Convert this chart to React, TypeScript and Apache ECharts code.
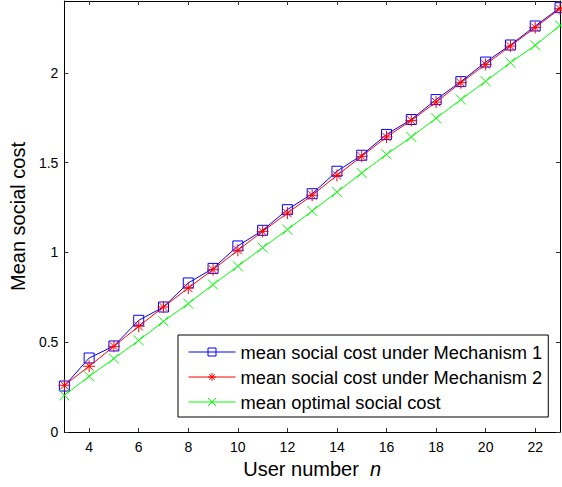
import React, { useEffect, useRef } from "react";
import * as echarts from "echarts";

const userNumbers = [3, 4, 5, 6, 7, 8, 9, 10, 11, 12, 13, 14, 15, 16, 17, 18, 19, 20, 21, 22, 23];
const mechanism1 = [0.256, 0.412, 0.479, 0.622, 0.696, 0.83, 0.911, 1.036, 1.123, 1.238, 1.327, 1.452, 1.541, 1.657, 1.74, 1.851, 1.951, 2.06, 2.155, 2.261, 2.363];
const mechanism2 = [0.26, 0.366, 0.477, 0.589, 0.696, 0.802, 0.904, 1.012, 1.117, 1.219, 1.318, 1.429, 1.535, 1.643, 1.735, 1.837, 1.945, 2.047, 2.149, 2.252, 2.357];
const optimal = [0.204, 0.31, 0.409, 0.51, 0.616, 0.715, 0.821, 0.923, 1.027, 1.127, 1.231, 1.336, 1.442, 1.546, 1.643, 1.747, 1.851, 1.953, 2.057, 2.153, 2.264];
const xTicks = [4, 6, 8, 10, 12, 14, 16, 18, 20, 22];
const seriesNames = [
  "mean social cost under Mechanism 1",
  "mean social cost under Mechanism 2",
  "mean optimal social cost",
];

const FONT = "Liberation Sans, Arial, Helvetica, sans-serif";

const pairs = (ys: number[]) => userNumbers.map((n, i) => [n, ys[i]]);

const SQUARE = "path://M0,0H10V10H0Z";
const STAR = "path://M6,0V12M0,6H12M1.8,1.8L10.2,10.2M10.2,1.8L1.8,10.2";
const CROSS = "path://M0,0L10,10M10,0L0,10";

export default function App() {
  const ref = useRef<HTMLDivElement>(null);
  useEffect(() => {
    if (!ref.current) return;
    const chart = echarts.init(ref.current, undefined, { renderer: "svg" });
    const tickStyle = { show: true, inside: true, length: 4, lineStyle: { color: "#333", width: 1 } };
    chart.setOption({
      animation: false,
      backgroundColor: "#fff",
      textStyle: { fontFamily: FONT },
      grid: { left: 62, right: 2, top: 1, bottom: 55, show: false },
      xAxis: [
        {
          type: "value",
          min: 3,
          max: 23,
          position: "bottom",
          name: "User number  {i|n}",
          nameLocation: "middle",
          nameGap: 26,
          nameTextStyle: {
            fontSize: 20,
            color: "#000",
            fontFamily: FONT,
            rich: { i: { fontStyle: "italic", fontSize: 20, color: "#000", fontFamily: FONT } },
          },
          axisLine: { show: true, onZero: false, lineStyle: { color: "#000", width: 1 } },
          axisTick: { ...tickStyle, customValues: xTicks },
          axisLabel: { customValues: xTicks, fontSize: 14, color: "#000", margin: 8, fontFamily: FONT },
          splitLine: { show: false },
        },
        {
          type: "value",
          min: 3,
          max: 23,
          position: "top",
          axisLine: { show: true, onZero: false, lineStyle: { color: "#000", width: 1 } },
          axisTick: { ...tickStyle, customValues: xTicks },
          axisLabel: { show: false },
          splitLine: { show: false },
        },
      ],
      yAxis: [
        {
          type: "value",
          min: 0,
          max: 2.4,
          interval: 0.5,
          position: "left",
          name: "Mean social cost",
          nameLocation: "middle",
          nameGap: 29,
          nameTextStyle: { fontSize: 20, color: "#000", fontFamily: FONT },
          axisLine: { show: true, onZero: false, lineStyle: { color: "#000", width: 1 } },
          axisTick: tickStyle,
          axisLabel: { fontSize: 14, color: "#000", margin: 6, showMaxLabel: false, fontFamily: FONT },
          splitLine: { show: false },
        },
        {
          type: "value",
          min: 0,
          max: 2.4,
          interval: 0.5,
          position: "right",
          axisLine: { show: true, onZero: false, lineStyle: { color: "#000", width: 1 } },
          axisTick: tickStyle,
          axisLabel: { show: false },
          splitLine: { show: false },
        },
      ],
      legend: {
        orient: "vertical",
        left: 178,
        top: 335,
        backgroundColor: "#fff",
        borderColor: "#000",
        borderWidth: 1,
        padding: [8, 6, 6, 10],
        itemGap: 7,
        itemWidth: 47,
        itemHeight: 10,
        lineStyle: { width: 1 },
        itemStyle: { borderWidth: 1 },
        textStyle: { fontSize: 18.3, color: "#000", fontFamily: FONT },
        data: seriesNames,
      },
      series: [
        {
          name: seriesNames[0],
          type: "line",
          data: pairs(mechanism1),
          symbol: SQUARE,
          symbolSize: 10,
          lineStyle: { color: "#0000ff", width: 1 },
          itemStyle: { color: "transparent", borderColor: "#0000ff", borderWidth: 1 },
          z: 2,
        },
        {
          name: seriesNames[1],
          type: "line",
          data: pairs(mechanism2),
          symbol: STAR,
          symbolSize: 12,
          lineStyle: { color: "#ff0000", width: 1 },
          itemStyle: { color: "transparent", borderColor: "#ff0000", borderWidth: 1 },
          z: 3,
        },
        {
          name: seriesNames[2],
          type: "line",
          data: pairs(optimal),
          symbol: CROSS,
          symbolSize: 10,
          lineStyle: { color: "#00ff00", width: 1 },
          itemStyle: { color: "transparent", borderColor: "#00ff00", borderWidth: 1 },
          z: 2,
        },
      ],
    });
    return () => chart.dispose();
  }, []);
  return (
    <div
      ref={ref}
      style={{ position: "absolute", left: 0, top: 0, width: 562, height: 487 }}
    />
  );
}
